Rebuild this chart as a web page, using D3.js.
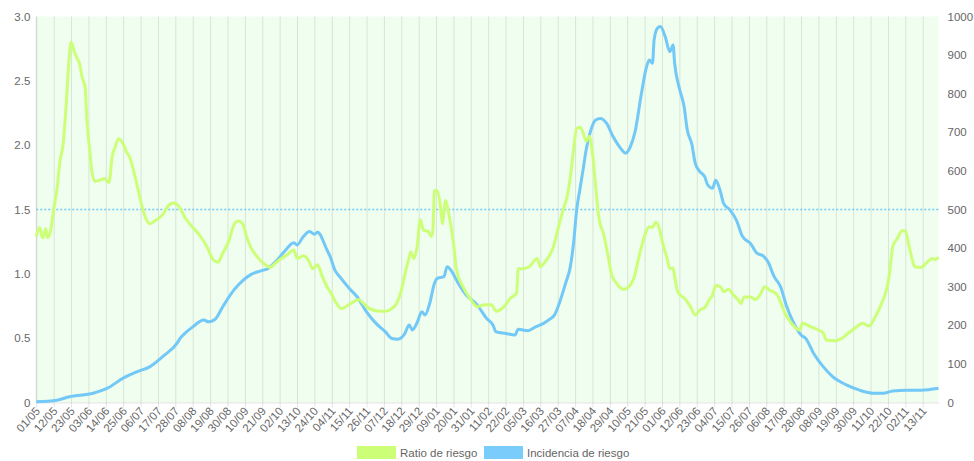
<!DOCTYPE html>
<html>
<head>
<meta charset="utf-8">
<script src="https://cdn.jsdelivr.net/npm/d3@7"></script>
<style>
  html, body { margin: 0; padding: 0; background: #ffffff; }
  svg { display: block; font-family: "Liberation Sans", Arial, Helvetica, sans-serif; }
</style>
</head>
<body>
<svg id="chart" width="974" height="461"></svg>
<script>
// ---------------- DATA ----------------
const xTickLabels = ["01/05","12/05","23/05","03/06","14/06","25/06","06/07","17/07","28/07","08/08","19/08","30/08","10/09","21/09","02/10","13/10","24/10","04/11","15/11","26/11","07/12","18/12","29/12","09/01","20/01","31/01","11/02","22/02","05/03","16/03","27/03","07/04","18/04","29/04","10/05","21/05","01/06","12/06","23/06","04/07","15/07","26/07","06/08","17/08","28/08","08/09","19/09","30/09","11/10","22/10","02/11","13/11"];
const startDate = "2020-05-01";
const endDate = "2021-11-23";

const leftTicks = [0, 0.5, 1.0, 1.5, 2.0, 2.5, 3.0];
const leftTickLabels = ["0", "0.5", "1.0", "1.5", "2.0", "2.5", "3.0"];
const rightTicks = [0, 100, 200, 300, 400, 500, 600, 700, 800, 900, 1000];
const thresholdRatio = 1.5;

const seriesNames = ["Ratio de riesgo", "Incidencia de riesgo"];

const ratioDates = ["2020-05-01","2020-05-03","2020-05-05","2020-05-07","2020-05-08","2020-05-10","2020-05-12","2020-05-14","2020-05-16","2020-05-18","2020-05-20","2020-05-22","2020-05-23","2020-05-25","2020-05-27","2020-05-28","2020-05-30","2020-06-01","2020-06-02","2020-06-04","2020-06-05","2020-06-07","2020-06-11","2020-06-13","2020-06-16","2020-06-18","2020-06-20","2020-06-22","2020-06-25","2020-06-27","2020-06-29","2020-07-03","2020-07-06","2020-07-09","2020-07-12","2020-07-16","2020-07-20","2020-07-24","2020-07-27","2020-07-31","2020-08-03","2020-08-06","2020-08-13","2020-08-17","2020-08-21","2020-08-24","2020-08-27","2020-08-31","2020-09-03","2020-09-06","2020-09-09","2020-09-11","2020-09-14","2020-09-18","2020-09-22","2020-09-26","2020-09-29","2020-10-02","2020-10-07","2020-10-11","2020-10-13","2020-10-17","2020-10-20","2020-10-23","2020-10-26","2020-10-29","2020-11-01","2020-11-03","2020-11-07","2020-11-10","2020-11-16","2020-11-21","2020-11-24","2020-11-28","2020-12-04","2020-12-08","2020-12-12","2020-12-15","2020-12-18","2020-12-20","2020-12-23","2020-12-24","2020-12-26","2020-12-28","2020-12-30","2021-01-01","2021-01-04","2021-01-06","2021-01-07","2021-01-08","2021-01-10","2021-01-12","2021-01-13","2021-01-15","2021-01-17","2021-01-20","2021-01-22","2021-01-26","2021-01-31","2021-02-04","2021-02-09","2021-02-13","2021-02-16","2021-02-21","2021-02-25","2021-03-01","2021-03-02","2021-03-05","2021-03-09","2021-03-14","2021-03-16","2021-03-19","2021-03-22","2021-03-24","2021-03-27","2021-03-31","2021-04-02","2021-04-04","2021-04-06","2021-04-08","2021-04-10","2021-04-12","2021-04-14","2021-04-16","2021-04-18","2021-04-20","2021-04-22","2021-04-25","2021-04-28","2021-04-30","2021-05-03","2021-05-08","2021-05-11","2021-05-15","2021-05-16","2021-05-19","2021-05-22","2021-05-24","2021-05-26","2021-05-28","2021-05-30","2021-06-01","2021-06-04","2021-06-06","2021-06-08","2021-06-09","2021-06-11","2021-06-16","2021-06-19","2021-06-22","2021-06-25","2021-06-28","2021-07-01","2021-07-03","2021-07-05","2021-07-08","2021-07-10","2021-07-13","2021-07-16","2021-07-19","2021-07-21","2021-07-23","2021-07-27","2021-07-30","2021-08-02","2021-08-05","2021-08-08","2021-08-13","2021-08-15","2021-08-18","2021-08-22","2021-08-27","2021-08-29","2021-09-03","2021-09-08","2021-09-11","2021-09-13","2021-09-18","2021-09-23","2021-09-27","2021-10-01","2021-10-06","2021-10-10","2021-10-14","2021-10-18","2021-10-21","2021-10-23","2021-10-25","2021-10-28","2021-10-31","2021-11-02","2021-11-04","2021-11-06","2021-11-08","2021-11-12","2021-11-15","2021-11-19","2021-11-21","2021-11-23"];
const ratioValues = [1.29,1.36,1.28,1.35,1.28,1.33,1.50,1.65,1.88,2.01,2.33,2.71,2.80,2.73,2.67,2.65,2.53,2.44,2.20,1.94,1.81,1.72,1.73,1.74,1.71,1.91,1.99,2.05,2.01,1.95,1.91,1.73,1.57,1.44,1.39,1.42,1.46,1.535,1.55,1.51,1.44,1.39,1.29,1.21,1.11,1.09,1.16,1.26,1.38,1.41,1.38,1.29,1.20,1.13,1.08,1.05,1.08,1.11,1.15,1.185,1.12,1.14,1.11,1.04,1.07,0.98,0.90,0.86,0.77,0.73,0.77,0.80,0.77,0.73,0.71,0.71,0.73,0.77,0.87,0.98,1.13,1.17,1.12,1.21,1.42,1.34,1.33,1.29,1.34,1.65,1.64,1.50,1.39,1.57,1.47,1.24,1.03,0.90,0.80,0.745,0.76,0.76,0.71,0.745,0.81,0.85,1.04,1.04,1.055,1.12,1.055,1.094,1.146,1.20,1.34,1.52,1.60,1.755,1.96,2.13,2.14,2.10,2.03,2.07,1.94,1.68,1.44,1.31,1.13,1.00,0.93,0.88,0.90,1.00,1.055,1.21,1.33,1.366,1.36,1.40,1.366,1.26,1.13,1.04,1.045,0.98,0.86,0.80,0.745,0.68,0.72,0.737,0.80,0.835,0.91,0.90,0.86,0.88,0.84,0.80,0.77,0.82,0.82,0.80,0.835,0.90,0.874,0.835,0.78,0.69,0.615,0.563,0.615,0.59,0.563,0.54,0.486,0.48,0.50,0.54,0.577,0.615,0.595,0.667,0.77,0.874,1.00,1.21,1.276,1.335,1.335,1.237,1.13,1.055,1.05,1.08,1.12,1.11,1.13];

const incidenceDates = ["2020-05-01","2020-05-14","2020-05-22","2020-06-06","2020-06-15","2020-06-25","2020-07-04","2020-07-12","2020-07-20","2020-07-29","2020-07-31","2020-08-03","2020-08-08","2020-08-15","2020-08-18","2020-08-22","2020-08-27","2020-09-03","2020-09-09","2020-09-14","2020-09-20","2020-09-25","2020-09-30","2020-10-05","2020-10-11","2020-10-13","2020-10-17","2020-10-21","2020-10-24","2020-10-26","2020-11-01","2020-11-03","2020-11-06","2020-11-09","2020-11-15","2020-11-20","2020-11-26","2020-12-02","2020-12-08","2020-12-12","2020-12-16","2020-12-20","2020-12-23","2020-12-25","2020-12-28","2020-12-31","2021-01-02","2021-01-05","2021-01-08","2021-01-10","2021-01-14","2021-01-16","2021-01-19","2021-01-23","2021-01-28","2021-02-04","2021-02-10","2021-02-14","2021-02-16","2021-02-22","2021-02-28","2021-03-02","2021-03-08","2021-03-13","2021-03-18","2021-03-22","2021-03-25","2021-03-28","2021-04-01","2021-04-04","2021-04-06","2021-04-08","2021-04-10","2021-04-12","2021-04-14","2021-04-17","2021-04-20","2021-04-23","2021-04-27","2021-05-01","2021-05-05","2021-05-09","2021-05-12","2021-05-15","2021-05-19","2021-05-22","2021-05-24","2021-05-26","2021-05-27","2021-05-29","2021-05-31","2021-06-03","2021-06-06","2021-06-08","2021-06-09","2021-06-12","2021-06-15","2021-06-17","2021-06-20","2021-06-22","2021-06-25","2021-06-28","2021-06-30","2021-07-03","2021-07-05","2021-07-08","2021-07-10","2021-07-14","2021-07-18","2021-07-22","2021-07-27","2021-07-31","2021-08-04","2021-08-07","2021-08-11","2021-08-15","2021-08-19","2021-08-23","2021-08-28","2021-08-31","2021-09-05","2021-09-11","2021-09-17","2021-09-26","2021-10-04","2021-10-13","2021-10-19","2021-10-25","2021-11-03","2021-11-12","2021-11-23"];
const incidenceValues = [2,6,15,24,37,63,80,93,119,153,166,179,196,214,209,215,248,291,317,332,341,348,367,391,414,408,430,443,436,441,395,378,343,326,296,274,235,205,183,166,164,177,201,188,207,235,227,257,309,322,326,352,339,309,279,253,218,201,183,179,175,190,186,196,205,216,227,257,309,352,412,499,551,602,654,706,732,736,723,689,663,646,663,702,801,866,887,879,939,969,974,948,909,926,879,814,766,706,667,620,598,585,563,555,576,546,516,499,473,430,412,387,380,365,326,300,248,209,175,166,127,93,67,45,32,24,24,30,32,32,37];

// ---------------- STYLE ----------------
const ratioColor = "#ccff77";
const incColor = "#72c8f6";
const plotBg = "#effeef";
const gridColor = "rgba(0,0,0,0.1)";
const textColor = "#666666";

const margin = { left: 36.3, right: 974 - 938.5, top: 16.5, bottom: 461 - 402.5 };
const W = 974, H = 461;

const parse = d3.utcParse("%Y-%m-%d");
const svg = d3.select("#chart");

const x = d3.scaleUtc()
  .domain([parse(startDate), parse(endDate)])
  .range([margin.left, W - margin.right]);
const yL = d3.scaleLinear().domain([0, 3]).range([H - margin.bottom, margin.top]);
const yR = d3.scaleLinear().domain([0, 1000]).range([H - margin.bottom, margin.top]);

// tick dates from labels (year inferred by month rollover)
let year = 2020, prevMonth = 0;
const tickDates = xTickLabels.map(l => {
  const [dd, mm] = l.split("/").map(Number);
  if (mm < prevMonth) year += 1;
  prevMonth = mm;
  return new Date(Date.UTC(year, mm - 1, dd));
});

// plot background
svg.append("rect")
  .attr("x", margin.left).attr("y", margin.top)
  .attr("width", W - margin.left - margin.right)
  .attr("height", H - margin.top - margin.bottom)
  .attr("fill", plotBg);

// x axis with vertical gridlines
const xAxis = d3.axisBottom(x)
  .tickValues(tickDates)
  .tickFormat((d, i) => xTickLabels[i])
  .tickSizeInner(-(H - margin.top - margin.bottom))
  .tickSizeOuter(0)
  .tickPadding(0);
const gx = svg.append("g")
  .attr("transform", `translate(0,${H - margin.bottom})`)
  .call(xAxis);
gx.select(".domain").attr("stroke", gridColor);
gx.selectAll(".tick line").attr("stroke", gridColor).attr("y2", -(H - margin.top - margin.bottom)).attr("y1", 5);
gx.selectAll(".tick text")
  .attr("fill", textColor)
  .style("font-size", "11.5px")
  .attr("text-anchor", "end")
  .attr("dy", null)
  .attr("transform", "translate(4,9) rotate(-48)");

// left axis line
svg.append("line")
  .attr("x1", margin.left).attr("x2", margin.left)
  .attr("y1", margin.top).attr("y2", H - margin.bottom)
  .attr("stroke", gridColor);

// left axis labels
const gyL = svg.append("g").attr("transform", `translate(${margin.left},0)`)
  .call(d3.axisLeft(yL).tickValues(leftTicks).tickFormat((d, i) => leftTickLabels[i]).tickSize(0).tickPadding(6));
gyL.select(".domain").remove();
gyL.selectAll("text").attr("fill", textColor).style("font-size", "11.5px");

// right axis labels
const gyR = svg.append("g").attr("transform", `translate(${W - margin.right},0)`)
  .call(d3.axisRight(yR).tickValues(rightTicks).tickFormat(d3.format("d")).tickSize(0).tickPadding(9));
gyR.select(".domain").remove();
gyR.selectAll("text").attr("fill", textColor).style("font-size", "11.5px");

// threshold dotted line at 1.5
svg.append("line")
  .attr("x1", margin.left).attr("x2", W - margin.right)
  .attr("y1", yL(thresholdRatio)).attr("y2", yL(thresholdRatio))
  .attr("stroke", incColor).attr("stroke-width", 1.5)
  .attr("stroke-dasharray", "2,2");

// lines
const incData = incidenceDates.map((d, i) => ({ d: parse(d), v: incidenceValues[i] }));
const ratioData = ratioDates.map((d, i) => ({ d: parse(d), v: ratioValues[i] }));

svg.append("path")
  .datum(incData)
  .attr("fill", "none")
  .attr("stroke", incColor)
  .attr("stroke-width", 3)
  .attr("stroke-linejoin", "round")
  .attr("d", d3.line().x(p => x(p.d)).y(p => yR(p.v)).curve(d3.curveMonotoneX));

svg.append("path")
  .datum(ratioData)
  .attr("fill", "none")
  .attr("stroke", ratioColor)
  .attr("stroke-width", 3)
  .attr("stroke-linejoin", "round")
  .attr("d", d3.line().x(p => x(p.d)).y(p => yL(p.v)).curve(d3.curveMonotoneX));

// legend
const legend = svg.append("g");
const legendItems = [
  { name: seriesNames[0], color: ratioColor, x: 357 },
  { name: seriesNames[1], color: "#7accfa", x: 484 }
];
legendItems.forEach(it => {
  legend.append("rect")
    .attr("x", it.x).attr("y", 446)
    .attr("width", 39).attr("height", 13)
    .attr("fill", it.color);
  legend.append("text")
    .attr("x", it.x + 43).attr("y", 456.5)
    .attr("fill", textColor)
    .style("font-size", "11.5px")
    .text(it.name);
});
</script>
</body>
</html>
